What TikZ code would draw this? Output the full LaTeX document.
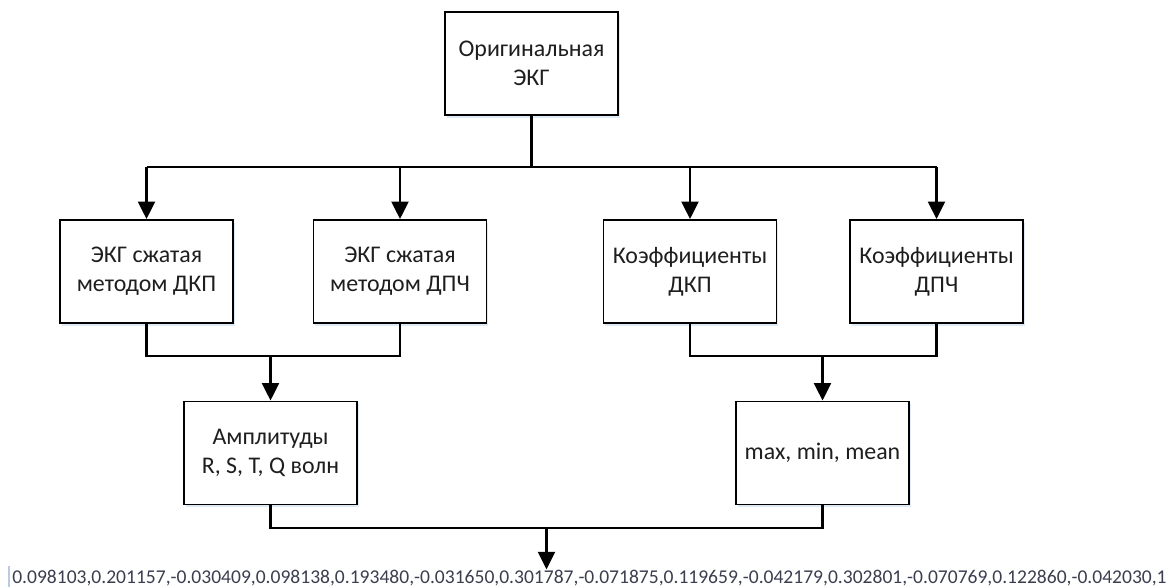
\documentclass[tikz,border=0pt]{standalone}
\usepackage{fontspec}
\setmainfont{Carlito}
\usetikzlibrary{arrows.meta}
\usetikzlibrary{positioning,shadows,calc}
\definecolor{boxtext}{RGB}{30,30,30}
\definecolor{vectext}{RGB}{58,62,78}
\definecolor{shadowblue}{RGB}{222,234,246}
\definecolor{cursorline}{RGB}{186,202,224}

\tikzset{
	block/.style={draw, line width=1.3pt, fill=white, text=boxtext, align=center,
		minimum width=4.325cm, minimum height=2.575cm, inner sep=0pt,
		font=\fontsize{17}{20.5}\selectfont,
		drop shadow={shadow xshift=0.04cm, shadow yshift=-0.07cm, fill=shadowblue, opacity=1}},
	wire/.style={line width=1.9pt},
	arrow/.style={wire, -{Triangle[width=12pt,length=12.5pt]}}
}

\begin{document}
\begin{tikzpicture}[x=0.025cm,y=-0.025cm]
	\useasboundingbox (0,0) rectangle (1169,587); %tamano de la imagen
	\node[block] (orig) at (531.5,63.5) {Оригинальная\\ЭКГ}; %bloque superior
	\node[block] (ecgdkp) at (146.5,271.5) {ЭКГ сжатая\\методом ДКП};
	\node[block] (ecgdpch) at (400,271.5) {ЭКГ сжатая\\методом ДПЧ};
	\node[block] (coefdkp) at (690,271.5) {Коэффициенты\\ДКП};
	\node[block] (coefdpch) at (936.5,271.5) {Коэффициенты\\ДПЧ};
	\node[block] (ampl) at (270.5,453) {Амплитуды\\R, S, T, Q волн}; %bloques inferiores
	\node[block] (stats) at (822.5,453) {max, min, mean};
	\node[anchor=base west, inner sep=0pt, text=vectext, font=\fontsize{13.9}{16}\selectfont] (vec) at (12,583) {0.098103,0.201157,-0.030409,0.098138,0.193480,-0.031650,0.301787,-0.071875,0.119659,-0.042179,0.302801,-0.070769,0.122860,-0.042030,1}; %vector de salida
	\draw[cursorline, line width=1.5pt] (9,566) -- (9,587); %cursor
	\draw[wire] (orig.south) -- (orig.south |- 0,167) coordinate (bustop); %linea de reparto
	\draw[wire] (ecgdkp.north |- bustop) -- (coefdpch.north |- bustop);
	\foreach \n in {ecgdkp,ecgdpch,coefdkp,coefdpch}
		\draw[arrow] (\n.north |- bustop) -- (\n.north);
	\draw[wire] (ecgdkp.south) -- (ecgdkp.south |- 0,356) -- (ecgdpch.south |- 0,356) -- (ecgdpch.south); %union izquierda
	\draw[arrow] (ampl.north |- 0,356) -- (ampl.north);
	\draw[wire] (coefdkp.south) -- (coefdkp.south |- 0,356) -- (coefdpch.south |- 0,356) -- (coefdpch.south); %union derecha
	\draw[arrow] (stats.north |- 0,356) -- (stats.north);
	\draw[wire] (ampl.south) -- (ampl.south |- 0,528) coordinate (busl) -- (stats.south |- 0,528) coordinate (busr) -- (stats.south); %union final
	\coordinate (busmid) at ($(busl)!0.5!(busr)$);
	\draw[arrow] (busmid) -- (busmid |- vec.north);
\end{tikzpicture}
\end{document}
